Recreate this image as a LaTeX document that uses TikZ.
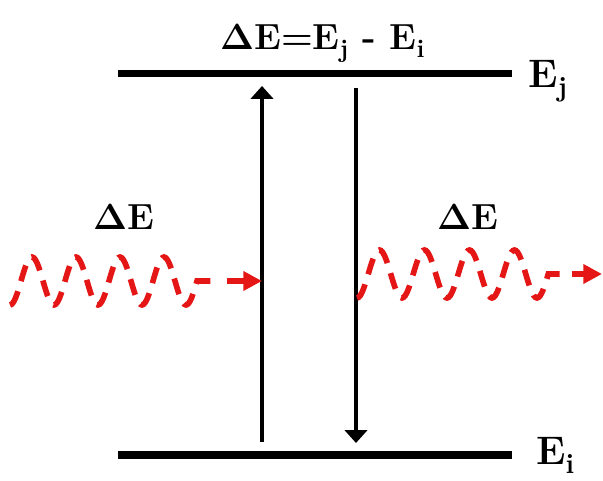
\documentclass[tikz,border=0pt]{standalone}
\usepackage{fontspec}
\usetikzlibrary{arrows.meta}
\definecolor{wavered}{RGB}{228,22,22}

\begin{document}
\begin{tikzpicture}[x=0.03cm,y=-0.03cm,
  level/.style={draw=black,line width=6.5pt},
  transition/.style={draw=black,line width=3.2pt,-{Triangle[length=11pt,width=19pt]}},
  lbl/.style={font=\fontsize{31}{36}\selectfont\bfseries,inner sep=0pt},
  lvllbl/.style={lbl,font=\fontsize{34}{38}\selectfont\bfseries},
  photon/.style={draw=wavered,line width=4.8pt,dash pattern=on 14pt off 9pt},
  photontip/.style={draw=wavered,line width=4.8pt,-{Triangle[length=16pt,width=16pt]}}
]
\useasboundingbox (0,0) rectangle (603,481);

% energy levels
\coordinate (jL) at (118,73.5);
\coordinate (jR) at (512,73.5);
\coordinate (iL) at (118,455);
\coordinate (iR) at (512,455);
\draw[level] (jL) -- (jR);
\draw[level] (iL) -- (iR);
\node[lvllbl,anchor=base west] (Ej) at (528,88) {E\textsubscript{j}};
\node[lvllbl,anchor=base west] (Ei) at (536,465) {E\textsubscript{i}};
\node[lbl,anchor=base west] (dE) at (220,50) {ΔE=E\textsubscript{j} - E\textsubscript{i}};

% absorption and emission
\coordinate (absS) at (262,442);
\coordinate (absE) at (262,86);
\coordinate (emS) at (356,88);
\coordinate (emE) at (356,443);
\draw[transition] (absS) -- (absE);
\draw[transition] (emS) -- (emE);

% incoming photon
\node[lbl,anchor=base] (dEin) at (124,230) {ΔE};
\coordinate (inT) at (215,281);
\coordinate (inA) at (227,281);
\coordinate (inB) at (262,281);
\draw[photon] plot[domain=10:197,samples=120,smooth] ({\x},{281+24*cos(360/44*(\x-10))}) -- (inT);
\draw[photontip] (inA) -- (inB);

% outgoing photon
\node[lbl,anchor=base] (dEout) at (468,230) {ΔE};
\coordinate (outT) at (565,274);
\coordinate (outA) at (572,274);
\coordinate (outB) at (602,274);
\draw[photon] plot[domain=357:548.25,samples=120,smooth] ({\x},{274+24*cos(360/45*(\x-357))}) -- (outT);
\draw[photontip] (outA) -- (outB);
\end{tikzpicture}
\end{document}
